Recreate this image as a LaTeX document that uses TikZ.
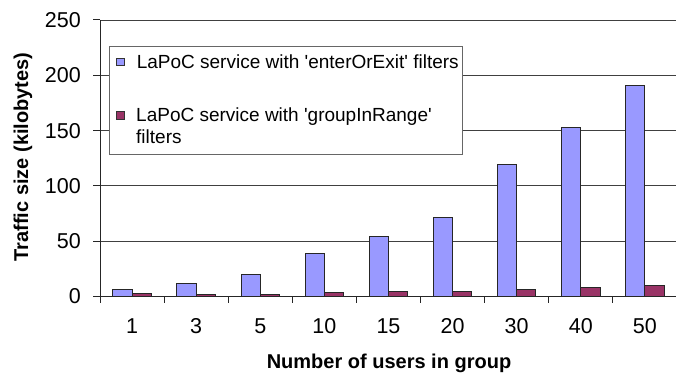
\documentclass[tikz,border=0pt]{standalone}
\usepackage{fontspec}
\setmainfont{Liberation Sans}
\usetikzlibrary{positioning}
\definecolor{bluebar}{HTML}{9999FF}
\definecolor{redbar}{HTML}{993366}
\begin{document}
\begin{tikzpicture}[x=1pt,y=1pt,
    gridline/.style={black!75, line width=0.9pt},
    axisline/.style={black!85, line width=1pt},
    barA/.style={draw=black!85, line width=0.9pt, fill=bluebar},
    barB/.style={draw=black!85, line width=0.9pt, fill=redbar},
    ticklab/.style={inner sep=0pt, font=\fontsize{21.5}{24}\selectfont},
    axtitle/.style={inner sep=0pt, font=\fontsize{20}{24}\selectfont\bfseries},
    keybox/.style={draw=black!80, line width=0.7pt, minimum size=7.5pt, inner sep=0pt},
    keytext/.style={inner sep=0pt, font=\fontsize{19}{22}\selectfont}]
  \useasboundingbox (0,0) rectangle (676,376);
  \begin{scope}[shift={(100,79.5)}, x=64.1pt, y=1.106pt]
    % grid and axes
    \foreach \v in {50,100,...,250}
      \draw[gridline] (0,\v) -- (9,\v);
    \foreach \v in {0,50,...,250} {
      \draw[axisline] (0,\v) -- ++(-7pt,0);
      \node[ticklab, left=19pt] (y\v) at (0,\v) {\v};
    }
    % bars
    \foreach \lab/\va/\vb [count=\i from 0] in {1/6/2.5, 3/12.2/2.3, 5/19.7/2.3,
        10/39.3/3.8, 15/54/5, 20/71.3/5, 30/119.2/6.5, 40/152.6/8.6, 50/190.6/9.8} {
      \draw[barA] (\i+0.2,0) rectangle (\i+0.5,\va);
      \draw[barB] (\i+0.5,0) rectangle (\i+0.8,\vb);
      \node[ticklab, below=22pt] (x\i) at (\i+0.5,0) {\lab};
    }
    \foreach \i in {0,...,9}
      \draw[axisline] (\i,0) -- ++(0,-6.5pt);
    \draw[axisline] (0,0) -- (9,0);
    \draw[axisline] (0,0) -- (0,250);
  \end{scope}
  % axis titles
  \node[axtitle, rotate=90] (ytitle) at (23,219) {Traffic size (kilobytes)};
  \node[axtitle] (xtitle) at (389,12.5) {Number of users in group};
  % legend
  \node[draw=black!60, fill=white, line width=0.9pt, minimum width=353pt,
        minimum height=108pt, inner sep=0pt, anchor=north west] (legend) at (109,330) {};
  \node[keybox, fill=bluebar] (key1) at (120.5,314) {};
  \node[keytext, right=12pt of key1] (lab1) {LaPoC service with \textquotesingle enterOrExit\textquotesingle{} filters};
  \node[keybox, fill=redbar] (key2) at (120.5,260.5) {};
  \node[keytext, align=left, anchor=north west] (lab2) at (136,268)
    {LaPoC service with \textquotesingle groupInRange\textquotesingle\\filters};
\end{tikzpicture}
\end{document}
